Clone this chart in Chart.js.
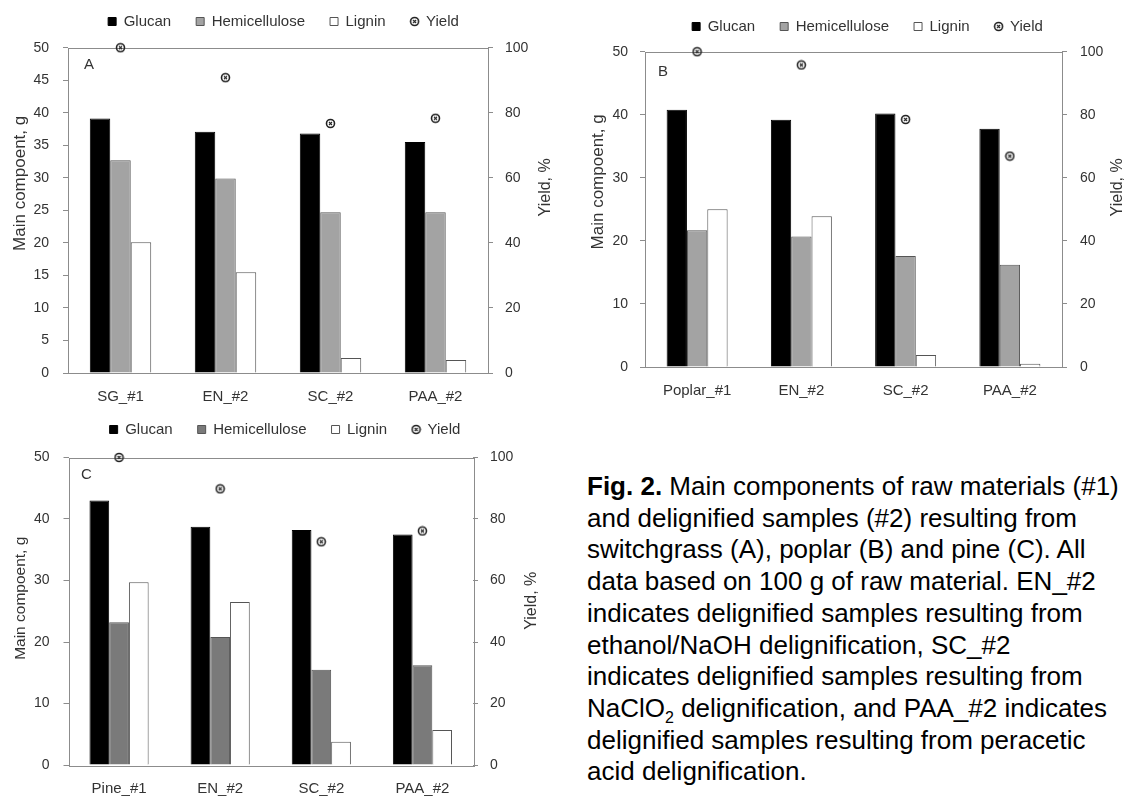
<!DOCTYPE html>
<html>
<head>
<meta charset="utf-8">
<script src="https://cdn.jsdelivr.net/npm/chart.js@4.4.1/dist/chart.umd.min.js"></script>
<style>
  html, body { margin: 0; padding: 0; background: #fff; }
  body { position: relative; width: 1130px; height: 797px; overflow: hidden; }
  canvas { position: absolute; }
  #chartA { left: 0px; top: -11px; }
  #chartB { left: 575px; top: -6px; }
  #chartC { left: 0px; top: 397px; }
  #caption {
    position: absolute; left: 587px; top: 471px;
    font-family: "Liberation Sans", Arial, sans-serif;
    font-size: 26px; line-height: 31.7px; color: #000; white-space: nowrap;
  }
  #caption sub { font-size: 16px; line-height: 0; }
</style>
</head>
<body>
<canvas id="chartA" width="567" height="419"></canvas>
<canvas id="chartB" width="585" height="408"></canvas>
<canvas id="chartC" width="570" height="403"></canvas>
<div id="caption"><b>Fig. 2.</b> Main components of raw materials (#1)<br>and delignified samples (#2) resulting from<br>switchgrass (A), poplar (B) and pine (C). All<br>data based on 100 g of raw material. EN_#2<br>indicates delignified samples resulting from<br>ethanol/NaOH delignification, SC_#2<br>indicates delignified samples resulting from<br>NaClO<sub>2</sub> delignification, and PAA_#2 indicates<br>delignified samples resulting from peracetic<br>acid delignification.</div>

<script>
// ------------------------------------
// DATA
// ------------------------------------
const labelsA = ["SG_#1", "EN_#2", "SC_#2", "PAA_#2"];
const glucanA = [39.1, 37.1, 36.8, 35.5];
const hemiA = [32.7, 29.9, 24.7, 24.7];
const ligninA = [20.1, 15.5, 2.3, 2.0];
const yieldA = [100, 90.8, 76.7, 78.3];

const labelsB = ["Poplar_#1", "EN_#2", "SC_#2", "PAA_#2"];
const glucanB = [40.8, 39.2, 40.2, 37.8];
const hemiB = [21.7, 20.7, 17.6, 16.2];
const ligninB = [25.0, 23.9, 1.9, 0.5];
const yieldB = [100, 95.8, 78.5, 66.9];

const labelsC = ["Pine_#1", "EN_#2", "SC_#2", "PAA_#2"];
const glucanC = [43.0, 38.75, 38.2, 37.5];
const hemiC = [23.2, 20.8, 15.5, 16.2];
const ligninC = [29.7, 26.5, 3.8, 5.7];
const yieldC = [100, 89.8, 72.6, 76.1];

// axis ranges / tick steps
const leftMax = 50;
const rightMax = 100;
const leftStepA = 5;
const leftStepBC = 10;
const rightStep = 20;

const seriesNames = ["Glucan", "Hemicellulose", "Lignin", "Yield"];
const leftTitle = "Main compoent, g";
const rightTitle = "Yield, %";

const FONT = "'Liberation Sans', Arial, sans-serif";
const TEXT = "#333";
const LINE = "#8c8c8c";

// ------------------------------------
// Yield marker (ring with small cross)
// ------------------------------------
function makeYieldMark() {
  const c = document.createElement("canvas");
  c.width = 11;
  c.height = 11;
  const g = c.getContext("2d");
  g.strokeStyle = "#222";
  g.lineWidth = 1.6;
  g.beginPath();
  g.arc(5.5, 5.5, 4, 0, Math.PI * 2);
  g.stroke();
  g.lineWidth = 1.1;
  g.beginPath();
  g.moveTo(4, 4); g.lineTo(7, 7);
  g.moveTo(7, 4); g.lineTo(4, 7);
  g.stroke();
  return c;
}
const yieldMark = makeYieldMark();

// ------------------------------------
// plot frame, panel letter, axis titles
// ------------------------------------
function drawUp(ctx, text, x, y) {
  ctx.save();
  ctx.translate(x, y);
  ctx.rotate(-Math.PI / 2);
  ctx.fillText(text, 0, 0);
  ctx.restore();
}

const panelExtras = {
  id: "panelExtras",
  beforeDatasetsDraw(chart) {
    const a = chart.chartArea;
    const ctx = chart.ctx;
    ctx.save();
    ctx.strokeStyle = LINE;
    ctx.lineWidth = 1;
    ctx.strokeRect(Math.round(a.left) + 0.5, Math.round(a.top) + 0.5,
      Math.round(a.right - a.left), Math.round(a.bottom - a.top));
    ctx.restore();
  },
  afterDraw(chart, args, o) {
    const a = chart.chartArea;
    const ctx = chart.ctx;
    const midY = (a.top + a.bottom) / 2;
    ctx.save();
    ctx.fillStyle = TEXT;
    ctx.textAlign = "center";
    ctx.textBaseline = "middle";
    ctx.font = "15px " + FONT;
    ctx.fillText(o.letter, a.left + o.letterDx, a.top + o.letterDy);
    ctx.font = o.leftSize + "px " + FONT;
    drawUp(ctx, leftTitle, a.left + o.leftDx, midY + o.leftDy);
    ctx.font = o.rightSize + "px " + FONT;
    drawUp(ctx, rightTitle, a.right + o.rightDx, midY + o.rightDy);
    ctx.restore();
  },
};

// ------------------------------------
// PANEL BUILDER
// ------------------------------------
function makePanel(id, labels, glucan, hemi, lignin, yld, leftStep, hemiColor, lay) {
  return new Chart(document.getElementById(id), {
    type: "bar",
    plugins: [panelExtras],
    data: {
      labels: labels,
      datasets: [
        {
          label: seriesNames[0],
          data: glucan,
          backgroundColor: "#000",
          borderColor: "#000",
          borderWidth: 1,
          pointStyle: "rect",
          xAxisID: "x",
          yAxisID: "y",
        },
        {
          label: seriesNames[1],
          data: hemi,
          backgroundColor: hemiColor,
          borderColor: "#555",
          borderWidth: 1,
          pointStyle: "rect",
          xAxisID: "x",
          yAxisID: "y",
        },
        {
          label: seriesNames[2],
          data: lignin,
          backgroundColor: "#fff",
          borderColor: "#555",
          borderWidth: 1,
          pointStyle: "rect",
          xAxisID: "x",
          yAxisID: "y",
        },
        {
          type: "line",
          label: seriesNames[3],
          data: yld,
          showLine: false,
          pointStyle: yieldMark,
          order: -1,
          clip: false,
          xAxisID: "x",
          yAxisID: "y1",
        },
      ],
    },
    options: {
      responsive: false,
      animation: false,
      events: [],
      layout: { padding: 0 },
      datasets: { bar: { categoryPercentage: 0.585, barPercentage: 1 } },
      plugins: {
        legend: {
          position: "top",
          labels: {
            usePointStyle: true,
            boxWidth: 8,
            boxHeight: 8,
            padding: 25,
            color: TEXT,
            font: { size: 15, family: FONT },
            sort: (a, b) => a.datasetIndex - b.datasetIndex,
          },
        },
        tooltip: { enabled: false },
        panelExtras: lay.extras,
      },
      scales: {
        x: {
          grid: { display: false, drawTicks: false },
          border: { display: false },
          ticks: {
            color: TEXT,
            font: { size: 15, family: FONT },
            padding: lay.xPad,
            maxRotation: 0,
            autoSkip: false,
          },
          afterFit: (s) => { s.height = 35; },
        },
        top: {
          type: "linear",
          position: "top",
          ticks: { display: false },
          grid: { display: false, drawTicks: false },
          border: { display: false },
          afterFit: (s) => { s.height = lay.topGap; },
        },
        y: {
          position: "left",
          min: 0,
          max: leftMax,
          ticks: { stepSize: leftStep, color: TEXT, font: { size: 14, family: FONT }, padding: lay.yPad },
          grid: { drawOnChartArea: false, tickLength: 5, color: LINE },
          border: { display: false },
          afterFit: (s) => { s.width = lay.leftW; },
        },
        y1: {
          position: "right",
          min: 0,
          max: rightMax,
          ticks: { stepSize: rightStep, color: TEXT, font: { size: 14, family: FONT }, padding: lay.y1Pad },
          grid: { drawOnChartArea: false, tickLength: 5, color: LINE },
          border: { display: false },
          afterFit: (s) => { s.width = lay.rightW; },
        },
      },
    },
  });
}

// ------------------------------------
// DRAW THE THREE PANELS
// ------------------------------------
window.chartA = makePanel("chartA", labelsA, glucanA, hemiA, ligninA, yieldA, leftStepA, "#a3a3a3", {
  topGap: 8.7, leftW: 68, rightW: 79, xPad: 15, yPad: 14, y1Pad: 12,
  extras: { letter: "A", letterDx: 21, letterDy: 17, leftDx: -48, leftDy: -27, leftSize: 17, rightDx: 58, rightDy: -23, rightSize: 16 },
});

window.chartB = makePanel("chartB", labelsB, glucanB, hemiB, ligninB, yieldB, leftStepBC, "#a3a3a3", {
  topGap: 7.7, leftW: 70, rightW: 98, xPad: 14.5, yPad: 12, y1Pad: 13,
  extras: { letter: "B", letterDx: 18, letterDy: 20, leftDx: -46.5, leftDy: -27.5, leftSize: 17, rightDx: 56, rightDy: -22, rightSize: 16 },
});

window.chartC = makePanel("chartC", labelsC, glucanC, hemiC, ligninC, yieldC, leftStepBC, "#7a7a7a", {
  topGap: 10.5, leftW: 68.5, rightW: 97, xPad: 14.5, yPad: 14, y1Pad: 12,
  extras: { letter: "C", letterDx: 18, letterDy: 17.5, leftDx: -47.5, leftDy: -13, leftSize: 15.5, rightDx: 59, rightDy: -10.5, rightSize: 16 },
});
</script>
</body>
</html>
